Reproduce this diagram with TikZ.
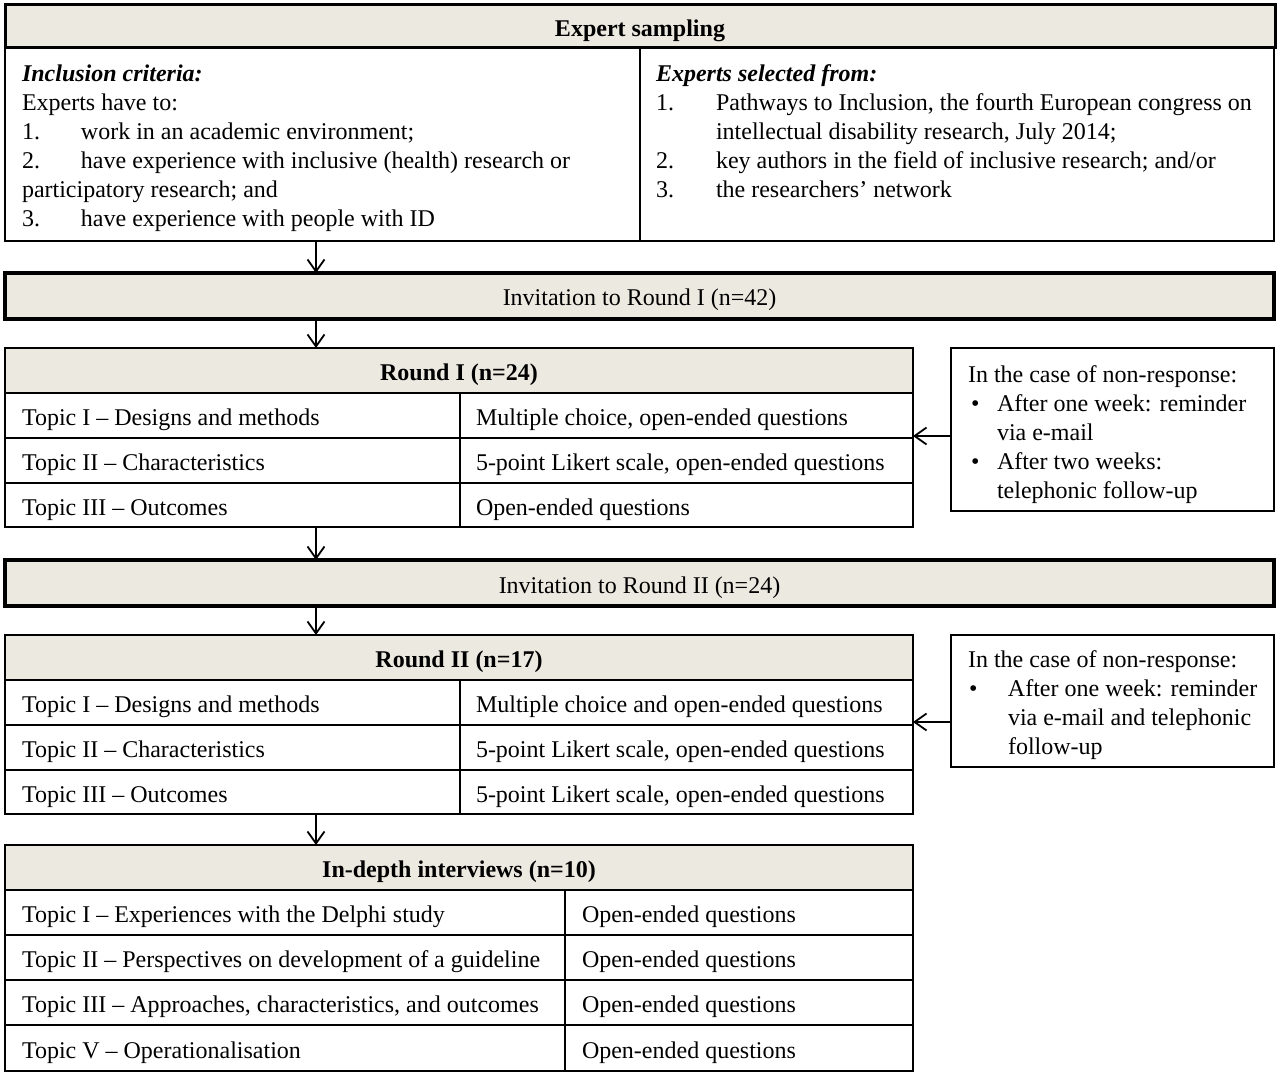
\documentclass[tikz,border=0pt]{standalone}
\usepackage{fontspec}
\setmainfont{Liberation Serif}
\usetikzlibrary{arrows.meta}
\definecolor{hdrfill}{RGB}{236,233,224}
\newcommand\lcell[2]{\makebox[#1][l]{#2}}
\begin{document}
\begin{tikzpicture}[x=1pt,y=-1pt,
  font=\fontsize{24}{29}\selectfont,
  hdr/.style={draw, line width=1.8pt, fill=hdrfill, anchor=north west, inner sep=0pt, outer sep=0pt,
    text height=22pt, text depth=2pt, font=\fontsize{24}{29}\selectfont\bfseries},
  inv/.style={hdr, line width=3.5pt, font=\fontsize{24}{29}\selectfont},
  cellbox/.style={draw, line width=1.8pt, anchor=north west, inner xsep=17pt, inner ysep=0pt, outer sep=0pt,
    text height=22pt, text depth=2pt},
  cellboxr/.style={cellbox, inner xsep=16pt},
  plainbox/.style={draw, line width=1.8pt, anchor=north west, inner sep=0pt, outer sep=0pt},
  txt/.style={anchor=base west, inner sep=0pt, outer sep=0pt, align=flush left, text width=#1},
  arr/.style={line width=1.8pt, -{Straight Barb[length=12pt, width=17pt, line width=1.8pt]}}
]
\useasboundingbox (0,0) rectangle (1280,1075);

% ---------- Expert sampling ----------
\node[plainbox, minimum width=635pt, minimum height=193pt] (esl) at (5,48) {};
\node[plainbox, minimum width=634pt, minimum height=193pt] (esr) at (640,48) {};
\node[hdr, line width=3pt, minimum width=1270pt, minimum height=43pt] (esh) at (5,5) {Expert sampling};

\node[txt=600pt] (esltxt) at (22,82) {\textbf{\textit{Inclusion criteria:}}\\
Experts have to:\\
\makebox[59pt][l]{1.}work in an academic environment;\\
\makebox[59pt][l]{2.}have experience with inclusive (health) research or\\
participatory research; and\\
\makebox[59pt][l]{3.}have experience with people with ID};

\node[txt=620pt] (esrtxt) at (656,82) {\textbf{\textit{Experts selected from:}}\\
\makebox[60pt][l]{1.}Pathways to Inclusion, the fourth European congress on\\
\hspace*{60pt}intellectual disability research, July 2014;\\
\makebox[60pt][l]{2.}key authors in the field of inclusive research; and/or\\
\makebox[60pt][l]{3.}the researchers’ network};

\coordinate (ax) at (316,0);

% ---------- Invitation I ----------
\node[inv, minimum width=1269pt, minimum height=46pt] (inv1) at (5,273) {Invitation to Round I (n=42)};

% ---------- Round I ----------
\node[hdr, minimum width=908pt, minimum height=45pt] (r1h) at (5,348) {Round I (n=24)};
\node[cellbox, minimum height=45pt] (r1a) at (5,393) {\lcell{421pt}{Topic I – Designs and methods}};
\node[cellboxr, minimum height=45pt] (r1b) at (460,393) {\lcell{421pt}{Multiple choice, open-ended questions}};
\node[cellbox, minimum height=45pt] (r1c) at (5,438) {\lcell{421pt}{Topic II – Characteristics}};
\node[cellboxr, minimum height=45pt] (r1d) at (460,438) {\lcell{421pt}{5-point Likert scale, open-ended questions}};
\node[cellbox, minimum height=44pt] (r1e) at (5,483) {\lcell{421pt}{Topic III – Outcomes}};
\node[cellboxr, minimum height=44pt] (r1f) at (460,483) {\lcell{421pt}{Open-ended questions}};

\node[plainbox, minimum width=323pt, minimum height=163pt] (s1) at (951,348) {};
\node[txt=310pt] (s1txt) at (968,382) {In the case of non-response:\\
\makebox[29pt][l]{\hspace*{3pt}•}After one week: reminder\\
\hspace*{29pt}via e-mail\\
\makebox[29pt][l]{\hspace*{3pt}•}After two weeks:\\
\hspace*{29pt}telephonic follow-up};

% ---------- Invitation II ----------
\node[inv, minimum width=1269pt, minimum height=46pt] (inv2) at (5,560) {Invitation to Round II (n=24)};

% ---------- Round II ----------
\node[hdr, minimum width=908pt, minimum height=45pt] (r2h) at (5,635) {Round II (n=17)};
\node[cellbox, minimum height=45pt] (r2a) at (5,680) {\lcell{421pt}{Topic I – Designs and methods}};
\node[cellboxr, minimum height=45pt] (r2b) at (460,680) {\lcell{421pt}{Multiple choice and open-ended questions}};
\node[cellbox, minimum height=45pt] (r2c) at (5,725) {\lcell{421pt}{Topic II – Characteristics}};
\node[cellboxr, minimum height=45pt] (r2d) at (460,725) {\lcell{421pt}{5-point Likert scale, open-ended questions}};
\node[cellbox, minimum height=44pt] (r2e) at (5,770) {\lcell{421pt}{Topic III – Outcomes}};
\node[cellboxr, minimum height=44pt] (r2f) at (460,770) {\lcell{421pt}{5-point Likert scale, open-ended questions}};

\node[plainbox, minimum width=323pt, minimum height=132pt] (s2) at (951,635) {};
\node[txt=310pt] (s2txt) at (968,667) {In the case of non-response:\\
\makebox[40pt][l]{\hspace*{1pt}•}After one week: reminder\\
\hspace*{40pt}via e-mail and telephonic\\
\hspace*{40pt}follow-up};

% ---------- In-depth interviews ----------
\node[hdr, minimum width=908pt, minimum height=45pt] (idh) at (5,845) {In-depth interviews (n=10)};
\node[cellbox, minimum height=45pt] (ida) at (5,890) {\lcell{526pt}{Topic I – Experiences with the Delphi study}};
\node[cellbox, minimum height=45pt] (idb) at (565,890) {\lcell{314pt}{Open-ended questions}};
\node[cellbox, minimum height=45pt] (idc) at (5,935) {\lcell{526pt}{Topic II – Perspectives on development of a guideline}};
\node[cellbox, minimum height=45pt] (idd) at (565,935) {\lcell{314pt}{Open-ended questions}};
\node[cellbox, minimum height=45pt] (ide) at (5,980) {\lcell{526pt}{Topic III – Approaches, characteristics, and outcomes}};
\node[cellbox, minimum height=45pt] (idf) at (565,980) {\lcell{314pt}{Open-ended questions}};
\node[cellbox, minimum height=46pt] (idg) at (5,1025) {\lcell{526pt}{Topic V – Operationalisation}};
\node[cellbox, minimum height=46pt] (idh2) at (565,1025) {\lcell{314pt}{Open-ended questions}};

% ---------- Connectors ----------
\draw[arr] (esl.south -| ax) -- (inv1.north -| ax);
\draw[arr] (inv1.south -| ax) -- (r1h.north -| ax);
\draw[arr] (r1e.south -| ax) -- (inv2.north -| ax);
\draw[arr] (inv2.south -| ax) -- (r2h.north -| ax);
\draw[arr] (r2e.south -| ax) -- (idh.north -| ax);
\draw[arr] ([yshift=-6.5pt]s1.west) -- ([yshift=-6.5pt]s1.west -| r1b.east);
\draw[arr] ([yshift=-21pt]s2.west) -- ([yshift=-21pt]s2.west -| r2b.east);
\end{tikzpicture}
\end{document}
